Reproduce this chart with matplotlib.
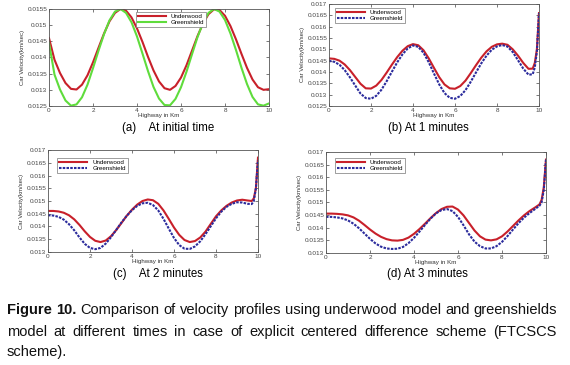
import numpy as np
import matplotlib.pyplot as plt
from matplotlib.ticker import FormatStrFormatter, MultipleLocator

# ---- data ---------------------------------------------------------------
x_a = np.arange(0, 10.01, 0.25)
under_a = [0.01460, 0.01393, 0.01352, 0.01321, 0.01303, 0.01301, 0.01316, 0.01345,
           0.01385, 0.01430, 0.01474, 0.01512, 0.01538, 0.01550, 0.01545, 0.01524,
           0.01490, 0.01448, 0.01402, 0.01360, 0.01326, 0.01305, 0.01300, 0.01312,
           0.01338, 0.01376, 0.01421, 0.01466, 0.01505, 0.01534, 0.01549, 0.01547,
           0.01529, 0.01497, 0.01456, 0.01411, 0.01368, 0.01332, 0.01308, 0.01300,
           0.01302]
green_a = [0.01445, 0.01347, 0.01301, 0.01267, 0.01251, 0.01255, 0.01277, 0.01316,
           0.01367, 0.01421, 0.01472, 0.01515, 0.01542, 0.01550, 0.01538, 0.01509,
           0.01465, 0.01412, 0.01358, 0.01309, 0.01273, 0.01253, 0.01252, 0.01272,
           0.01308, 0.01356, 0.01410, 0.01463, 0.01507, 0.01538, 0.01550, 0.01542,
           0.01516, 0.01474, 0.01423, 0.01368, 0.01318, 0.01278, 0.01255, 0.01251,
           0.01258]

x_t = list(np.arange(0, 9.51, 0.25)) + [9.7, 9.8, 9.9, 10.0]
under_b = [0.01460, 0.01458, 0.01450, 0.01433, 0.01408, 0.01378, 0.01348, 0.01328,
           0.01327, 0.01340, 0.01365, 0.01398, 0.01433, 0.01466, 0.01494, 0.01514,
           0.01523, 0.01518, 0.01496, 0.01460, 0.01418, 0.01377, 0.01345, 0.01328,
           0.01326, 0.01338, 0.01362, 0.01395, 0.01430, 0.01463, 0.01491, 0.01511,
           0.01522, 0.01525, 0.01520, 0.01500, 0.01472, 0.01440, 0.01414,
           0.01415, 0.01440, 0.01500, 0.01660]
green_b = [0.01449, 0.01445, 0.01432, 0.01408, 0.01376, 0.01340, 0.01305, 0.01285,
           0.01282, 0.01295, 0.01322, 0.01360, 0.01402, 0.01443, 0.01478, 0.01504,
           0.01517, 0.01511, 0.01485, 0.01443, 0.01393, 0.01345, 0.01307, 0.01286,
           0.01282, 0.01294, 0.01320, 0.01357, 0.01398, 0.01438, 0.01472, 0.01498,
           0.01513, 0.01519, 0.01512, 0.01488, 0.01452, 0.01415, 0.01388,
           0.01390, 0.01420, 0.01490, 0.01660]
under_c = [0.01461, 0.01461, 0.01459, 0.01454, 0.01444, 0.01428, 0.01406, 0.01381,
           0.01359, 0.01344, 0.01339, 0.01345, 0.01362, 0.01386, 0.01414, 0.01442,
           0.01466, 0.01486, 0.01500, 0.01506, 0.01503, 0.01489, 0.01463, 0.01430,
           0.01396, 0.01367, 0.01347, 0.01339, 0.01343, 0.01357, 0.01380, 0.01410,
           0.01440, 0.01463, 0.01481, 0.01494, 0.01502, 0.01505, 0.01502,
           0.01500, 0.01510, 0.01550, 0.01670]
green_c = [0.01444, 0.01443, 0.01438, 0.01427, 0.01409, 0.01385, 0.01357, 0.01332,
           0.01316, 0.01311, 0.01316, 0.01333, 0.01358, 0.01387, 0.01416, 0.01442,
           0.01464, 0.01481, 0.01491, 0.01493, 0.01484, 0.01463, 0.01430, 0.01392,
           0.01355, 0.01327, 0.01313, 0.01312, 0.01322, 0.01342, 0.01370, 0.01401,
           0.01432, 0.01458, 0.01477, 0.01489, 0.01495, 0.01494, 0.01489,
           0.01488, 0.01500, 0.01550, 0.01660]
under_d = [0.01456, 0.01456, 0.01455, 0.01453, 0.01449, 0.01441, 0.01428, 0.01411,
           0.01393, 0.01377, 0.01364, 0.01355, 0.01350, 0.01349, 0.01352, 0.01361,
           0.01376, 0.01395, 0.01416, 0.01438, 0.01458, 0.01474, 0.01483, 0.01484,
           0.01472, 0.01449, 0.01419, 0.01389, 0.01366, 0.01353, 0.01350, 0.01354,
           0.01366, 0.01385, 0.01407, 0.01429, 0.01449, 0.01466, 0.01480,
           0.01492, 0.01510, 0.01560, 0.01670]
green_d = [0.01443, 0.01443, 0.01441, 0.01437, 0.01429, 0.01416, 0.01398, 0.01377,
           0.01356, 0.01338, 0.01325, 0.01318, 0.01316, 0.01317, 0.01324, 0.01339,
           0.01360, 0.01385, 0.01411, 0.01436, 0.01457, 0.01470, 0.01474, 0.01466,
           0.01443, 0.01410, 0.01374, 0.01345, 0.01327, 0.01318, 0.01318, 0.01327,
           0.01344, 0.01367, 0.01393, 0.01418, 0.01440, 0.01458, 0.01474,
           0.01487, 0.01500, 0.01550, 0.01670]

labels = ['Underwood', 'Greenshield']
sub_captions = ['(a)    At initial time', '(b) At 1 minutes', '(c)    At 2 minutes', '(d) At 3 minutes']
caption_lines = [
    ['Figure', '10.', 'Comparison', 'of', 'velocity', 'profiles', 'using', 'underwood',
     'model', 'and', 'greenshields'],
    ['model', 'at', 'different', 'times', 'in', 'case', 'of', 'explicit', 'centered',
     'difference', 'scheme', '(FTCSCS'],
    ['scheme).'],
]

FONT = ['Liberation Sans', 'DejaVu Sans']
plt.rcParams['font.family'] = FONT

W, H = 570, 365
fig = plt.figure(figsize=(W / 100, H / 100), dpi=100)


def px_axes(l, r, t, b):
    return fig.add_axes([l / W, 1 - b / H, (r - l) / W, (b - t) / H])


panels = [
    dict(box=(49, 269, 9, 106), x=x_a, u=under_a, g=green_a, ylim=(0.0125, 0.0155),
         gcol='#5fdc3c', gls='-', leg=(0.38, 1.0), cap=(168, 128)),
    dict(box=(329, 539, 4, 106), x=x_t, u=under_b, g=green_b, ylim=(0.0125, 0.017),
         gcol='#2b2b9c', gls=(0, (1.2, 0.6)), leg=(0.012, 0.995), cap=(428, 128)),
    dict(box=(48, 258, 150, 252), x=x_t, u=under_c, g=green_c, ylim=(0.013, 0.017),
         gcol='#2b2b9c', gls=(0, (1.2, 0.6)), leg=(0.03, 0.955), cap=(158, 274)),
    dict(box=(326, 546, 152, 253), x=x_t, u=under_d, g=green_d, ylim=(0.013, 0.017),
         gcol='#2b2b9c', gls=(0, (1.2, 0.6)), leg=(0.025, 0.975), cap=(427, 274)),
]

for p, cap in zip(panels, sub_captions):
    ax = px_axes(*p['box'])
    ax.plot(p['x'], p['u'], color='#c8202a', lw=1.5, label=labels[0])
    ax.plot(p['x'], p['g'], color=p['gcol'], lw=1.5, ls=p['gls'], label=labels[1])
    ax.set_xlim(0, 10)
    ax.set_ylim(*p['ylim'])
    ax.xaxis.set_major_locator(MultipleLocator(2))
    ax.yaxis.set_major_locator(MultipleLocator(0.0005))
    ax.yaxis.set_major_formatter(FormatStrFormatter('%g'))
    ax.tick_params(direction='in', length=2, width=0.5, labelsize=4.6, pad=1.2,
                   top=True, right=True, colors='#444444')
    for s in ax.spines.values():
        s.set_linewidth(0.6)
        s.set_color('#555555')
    ax.set_xlabel('Highway in Km', fontsize=4.5, labelpad=0, color='#333333')
    ax.set_ylabel('Car Velocity(km/sec)', fontsize=4.3, labelpad=2, color='#333333')
    ax.legend(loc='upper left', bbox_to_anchor=p['leg'], fontsize=4.5, handlelength=4.5,
              handletextpad=0.8, borderpad=0.3, labelspacing=0.1, fancybox=False,
              framealpha=1, edgecolor='#777777').get_frame().set_linewidth(0.5)
    fig.text(p['cap'][0] / W, 1 - p['cap'][1] / H, cap, fontsize=8.3,
             ha='center', va='center')

# justified figure caption
renderer = fig.canvas.get_renderer()
x0, x1 = 7 / W, 557 / W
line_y = [310, 332, 352]
for i, words in enumerate(caption_lines):
    texts = []
    for j, w in enumerate(words):
        bold = (i == 0 and j < 2)
        texts.append(fig.text(0, 1 - line_y[i] / H, w, fontsize=10.5, va='center',
                              fontweight='bold' if bold else 'normal', color='#111111'))
    widths = [t.get_window_extent(renderer).width / fig.bbox.width for t in texts]
    if len(words) > 1:
        gap = (x1 - x0 - sum(widths)) / (len(words) - 1)
    else:
        gap = 0
    pos = x0
    for t, wd in zip(texts, widths):
        t.set_x(pos)
        pos += wd + gap

fig.savefig('out.png', dpi=100)
